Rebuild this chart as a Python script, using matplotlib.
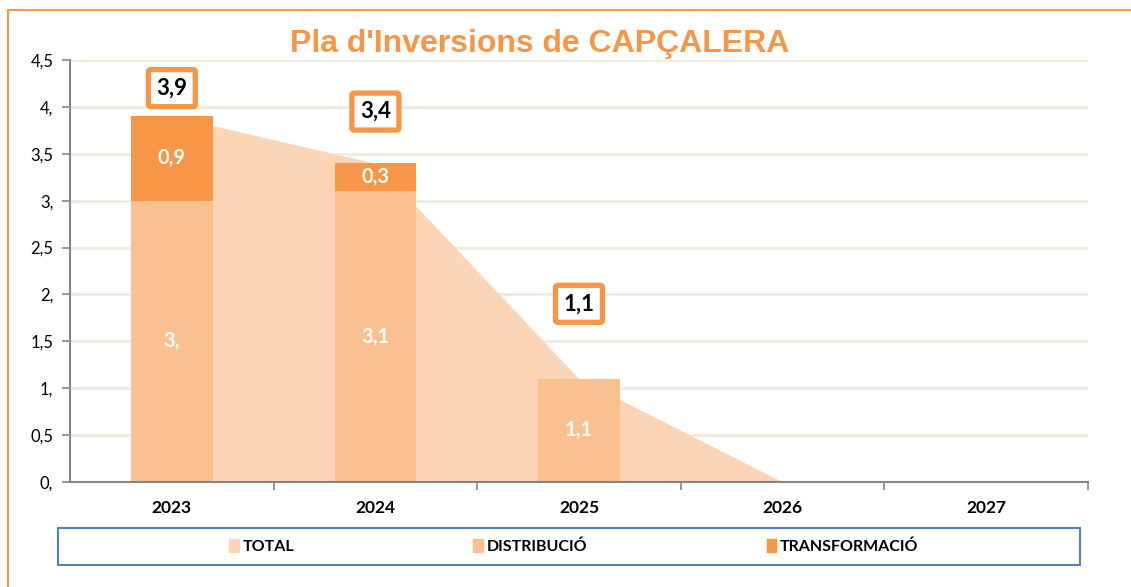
import numpy as np
import matplotlib
matplotlib.use("Agg")
import matplotlib.pyplot as plt
from matplotlib.patches import Rectangle, Patch

# dades
anys = ['2023', '2024', '2025', '2026', '2027']
distribucio = [3.0, 3.1, 1.1, 0.0, 0.0]
transformacio = [0.9, 0.3, 0.0, 0.0, 0.0]
total = [3.9, 3.4, 1.1, 0.0, 0.0]
# posició vertical de les etiquetes del total (en unitats de l'eix)
total_label_y = [4.2, 3.95, 1.9]

c_total = '#FBD5B5'
c_dist = '#FAC090'
c_trans = '#F79646'
c_title = '#F79646'

font_lbl = ['Lato', 'DejaVu Sans']


def fmt(v):
    s = f'{v:.1f}'.replace('.', ',')
    if s.endswith(',0'):
        s = s[:-1]
    return s


fig = plt.figure(figsize=(11.31, 5.87), dpi=100)
fig.patch.set_facecolor('white')
ax = fig.add_axes([70 / 1131, 1 - 482 / 587, (1088 - 70) / 1131, (482 - 60) / 587])

x = np.arange(len(anys))

# àrea del total
ax.fill_between(x, total, 0, color=c_total, lw=0, zorder=2)

# barres apilades
w = 0.4
ax.bar(x[:3], distribucio[:3], width=w, color=c_dist, zorder=3)
ax.bar(x[:3], transformacio[:3], width=w, bottom=distribucio[:3], color=c_trans, zorder=3)

# etiquetes dins les barres
for i in range(3):
    if distribucio[i] > 0:
        ax.text(x[i], distribucio[i] / 2, fmt(distribucio[i]), ha='center', va='center',
                color='white', fontsize=14.5, fontweight='bold', family=font_lbl, zorder=4)
    if transformacio[i] > 0:
        ax.text(x[i], distribucio[i] + transformacio[i] / 2, fmt(transformacio[i]),
                ha='center', va='center', color='white', fontsize=14.5,
                fontweight='bold', family=font_lbl, zorder=4)

# etiquetes del total
for i, yl in enumerate(total_label_y):
    ax.text(x[i], yl, fmt(total[i]), ha='center', va='center', color='black',
            fontsize=16, fontweight='bold', family=font_lbl, zorder=5,
            bbox=dict(boxstyle='round,pad=0.36,rounding_size=0.1', fc='white',
                      ec=c_trans, lw=3.8))

ax.set_xlim(-0.5, len(anys) - 0.5)
ax.set_ylim(0, 4.5)
yt = np.arange(0, 4.51, 0.5)
ax.set_yticks(yt)
ax.set_yticklabels([fmt(v) for v in yt], family=font_lbl, fontsize=12)
ax.yaxis.grid(True, color='#EEECE1', lw=2, zorder=0)
ax.set_axisbelow(True)

ax.set_xticks(x)
ax.set_xticklabels(anys, family=font_lbl, fontsize=12.5, fontweight='bold')
ax.set_xticks(np.arange(0.5, len(anys), 1.0), minor=True)
ax.tick_params(axis='x', which='major', length=0, pad=13)
ax.tick_params(axis='x', which='minor', length=6, color='#868686', width=1.2, direction='out')
ax.tick_params(axis='y', length=6, color='#868686', width=1.2, pad=6)

for s in ['top', 'right']:
    ax.spines[s].set_visible(False)
for s in ['left', 'bottom']:
    ax.spines[s].set_color('#868686')
    ax.spines[s].set_linewidth(1.5)
ax.spines['bottom'].set_zorder(6)

# títol
fig.text(539.5 / 1131, 1 - 44 / 587, "Pla d'Inversions de CAPÇALERA", ha='center', va='center',
         color=c_title, fontsize=23, fontweight='bold', family='Liberation Sans')

# vora taronja del gràfic
fig.patches.append(Rectangle((8 / 1131, -0.2), 1.2, 1.2 - 10 / 587, transform=fig.transFigure,
                             fill=False, ec=c_trans, lw=1.5, clip_on=False))

# llegenda
fig.patches.append(Rectangle((58 / 1131, 1 - 565 / 587), (1080 - 58) / 1131, 37 / 587,
                             transform=fig.transFigure, fill=False, ec='#4F81BD', lw=1.5))
handles = [Patch(color=c_total, label='TOTAL'),
           Patch(color=c_dist, label='DISTRIBUCIÓ'),
           Patch(color=c_trans, label='TRANSFORMACIÓ')]
leg = fig.legend(handles=handles, loc='center', bbox_to_anchor=(574 / 1131, 1 - 546.5 / 587),
                 ncol=3, frameon=False, handlelength=0.6, handleheight=0.9, handletextpad=0.25,
                 columnspacing=11.2, prop=dict(family=font_lbl, weight='bold', size=11.5))

fig.savefig('out.png', dpi=100)
